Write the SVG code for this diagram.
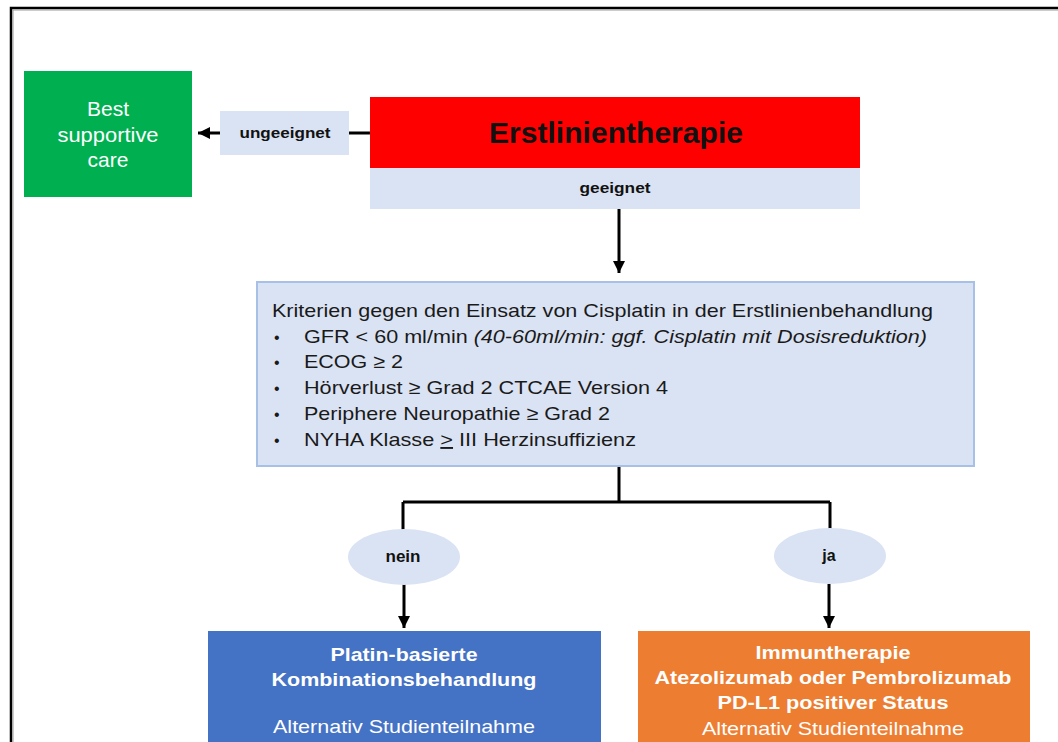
<svg xmlns="http://www.w3.org/2000/svg" width="1058" height="742" viewBox="0 0 1058 742">
<defs>
<marker id="ah" markerUnits="userSpaceOnUse" markerWidth="14" markerHeight="14" viewBox="0 0 14 14" refX="12" refY="7" orient="auto">
<path d="M0,1 L12,7 L0,13 Z" fill="#000"/>
</marker>
<style>
text{font-family:"Liberation Sans",Arial,sans-serif}
.b{font-weight:bold}
.w{fill:#fff}
.lbl{font-size:15px;font-weight:bold;fill:#111;text-anchor:middle}
.crit{font-size:19px;fill:#1a1a1a}
.bx{font-size:19px;fill:#fff;text-anchor:middle}
.con{stroke:#000;stroke-width:3;fill:none}
</style>
</defs>
<rect width="1058" height="742" fill="#fff"/>
<g id="frame">
<path d="M11,742 V8 H1058" fill="none" stroke="#000" stroke-width="2.5"/>
<path d="M13,742 V10 H1058" fill="none" stroke="#999" stroke-width="1"/>
</g>
<g id="connectors">
<line class="con" x1="370" y1="133" x2="198" y2="133" marker-end="url(#ah)"/>
<line class="con" x1="619" y1="209" x2="619" y2="273" marker-end="url(#ah)"/>
<path class="con" d="M619,467 V502 M403,502 H830 M403,502 V530 M830,502 V530" stroke-width="4"/>
<line class="con" x1="404" y1="584" x2="404" y2="628" marker-end="url(#ah)"/>
<line class="con" x1="829" y1="584" x2="829" y2="628" marker-end="url(#ah)"/>
</g>
<g id="bsc">
<rect x="24" y="71" width="168" height="126" fill="#00B050"/>
<text class="bx" x="108" y="116" style="font-size:21px">Best</text>
<text class="bx" x="108" y="142" style="font-size:21px" textLength="101" lengthAdjust="spacingAndGlyphs">supportive</text>
<text class="bx" x="108" y="167" style="font-size:21px">care</text>
</g>
<g id="ungeeignet">
<rect x="220" y="111" width="129" height="44" fill="#DAE3F3"/>
<text class="lbl" x="285" y="138" textLength="91" lengthAdjust="spacingAndGlyphs">ungeeignet</text>
</g>
<g id="erstlinie">
<rect x="370" y="97" width="490" height="71" fill="#FF0000"/>
<text x="616" y="143" font-size="29" class="b" text-anchor="middle" fill="#111" textLength="254" lengthAdjust="spacingAndGlyphs">Erstlinientherapie</text>
<rect x="370" y="168" width="490" height="41" fill="#DAE3F3"/>
<text class="lbl" x="615" y="193" textLength="71" lengthAdjust="spacingAndGlyphs">geeignet</text>
</g>
<g id="kriterien">
<rect x="257" y="282" width="717" height="184" fill="#DAE3F3" stroke="#A9C0E6" stroke-width="2"/>
<text class="crit" x="272" y="317" textLength="661" lengthAdjust="spacingAndGlyphs">Kriterien gegen den Einsatz von Cisplatin in der Erstlinienbehandlung</text>
<g class="crit">
<text x="274" y="343" font-size="16">•</text><text x="304" y="343" textLength="623" lengthAdjust="spacingAndGlyphs">GFR &lt; 60 ml/min <tspan font-style="italic">(40-60ml/min: ggf. Cisplatin mit Dosisreduktion)</tspan></text>
<text x="274" y="368" font-size="16">•</text><text x="304" y="368" textLength="99" lengthAdjust="spacingAndGlyphs">ECOG ≥ 2</text>
<text x="274" y="394" font-size="16">•</text><text x="304" y="394" textLength="364" lengthAdjust="spacingAndGlyphs">Hörverlust ≥ Grad 2 CTCAE Version 4</text>
<text x="274" y="420" font-size="16">•</text><text x="304" y="420" textLength="306" lengthAdjust="spacingAndGlyphs">Periphere Neuropathie ≥ Grad 2</text>
<text x="274" y="446" font-size="16">•</text><text x="304" y="446" textLength="332" lengthAdjust="spacingAndGlyphs">NYHA Klasse <tspan text-decoration="underline">&gt;</tspan> III Herzinsuffizienz</text>
</g>
</g>
<g id="nein">
<ellipse cx="404" cy="557" rx="56" ry="28" fill="#DAE3F3"/>
<text class="lbl" x="403" y="562" style="font-size:16px" textLength="35" lengthAdjust="spacingAndGlyphs">nein</text>
</g>
<g id="ja">
<ellipse cx="830" cy="556" rx="56" ry="28" fill="#DAE3F3"/>
<text class="lbl" x="829" y="561" style="font-size:16px">ja</text>
</g>
<g id="platin">
<rect x="208" y="631" width="393" height="111" fill="#4472C4"/>
<text class="bx b" x="404" y="661" textLength="147" lengthAdjust="spacingAndGlyphs">Platin-basierte</text>
<text class="bx b" x="404" y="686" textLength="265" lengthAdjust="spacingAndGlyphs">Kombinationsbehandlung</text>
<text class="bx" x="404" y="733" textLength="262" lengthAdjust="spacingAndGlyphs">Alternativ Studienteilnahme</text>
</g>
<g id="immun">
<rect x="638" y="631" width="392" height="111" fill="#ED7D31"/>
<text class="bx b" x="833" y="659" textLength="155" lengthAdjust="spacingAndGlyphs">Immuntherapie</text>
<text class="bx b" x="833" y="684" textLength="357" lengthAdjust="spacingAndGlyphs">Atezolizumab oder Pembrolizumab</text>
<text class="bx b" x="833" y="709" textLength="231" lengthAdjust="spacingAndGlyphs">PD-L1 positiver Status</text>
<text class="bx" x="833" y="735" textLength="262" lengthAdjust="spacingAndGlyphs">Alternativ Studienteilnahme</text>
</g>
</svg>
